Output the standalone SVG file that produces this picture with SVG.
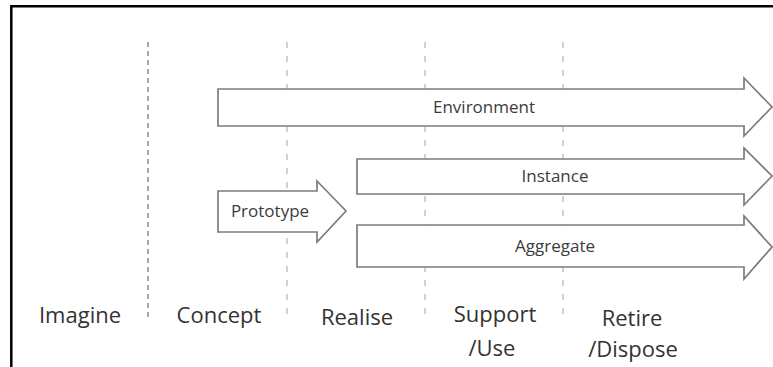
<svg xmlns="http://www.w3.org/2000/svg" width="773" height="367" viewBox="0 0 773 367">
  <style>
    .frame { fill: none; stroke: #000; stroke-width: 2.5; }
    .phase-first { fill: none; stroke: #a8a8a8; stroke-width: 2; stroke-dasharray: 5 4; }
    .phase { fill: none; stroke: #b4b4b4; stroke-width: 1.2; stroke-dasharray: 6 8; }
    .arrow { fill: #fff; stroke: #7c7c7c; stroke-width: 1.7; stroke-linejoin: miter; }
    .lbl { font-family: "Open Sans", "Liberation Sans", sans-serif; font-size: 17px; fill: #3c3c3c; text-anchor: middle; }
    .stage { font-family: "Open Sans", "Liberation Sans", sans-serif; font-size: 22px; fill: #333; text-anchor: middle; }
  </style>

  <!-- outer frame (left and top edges) -->
  <path class="frame" d="M11.3,367 V6.2 H775"/>

  <!-- phase boundaries -->
  <g id="phase-lines">
    <line class="phase-first" x1="148" y1="42" x2="148" y2="318"/>
    <line class="phase" x1="287" y1="42" x2="287" y2="318"/>
    <line class="phase" x1="425" y1="42" x2="425" y2="318"/>
    <line class="phase" x1="563" y1="42" x2="563" y2="320"/>
  </g>

  <g id="connectors">
    <g id="environment">
      <polygon class="arrow" points="218,89 744,89 744,78 772,107 744,136 744,126 218,126"/>
      <text class="lbl" x="484" y="113">Environment</text>
    </g>
    <g id="instance">
      <polygon class="arrow" points="357,159 744,159 744,148 772,176 744,205 744,194 357,194"/>
      <text class="lbl" x="555" y="182">Instance</text>
    </g>
    <g id="aggregate">
      <polygon class="arrow" points="357,225 744,225 744,216 772,247 744,279 744,267 357,267"/>
      <text class="lbl" x="555" y="252">Aggregate</text>
    </g>
    <g id="prototype">
      <polygon class="arrow" points="218,191 317,191 317,181 346,211 317,242 317,232 218,232"/>
      <text class="lbl" x="270" y="217">Prototype</text>
    </g>
  </g>

  <!-- lifecycle stages -->
  <g id="stage-imagine"><text class="stage" x="80" y="323">Imagine</text></g>
  <g id="stage-concept"><text class="stage" x="219" y="323">Concept</text></g>
  <g id="stage-realise"><text class="stage" x="357" y="325">Realise</text></g>
  <g id="stage-support">
    <text class="stage" x="495" y="322">Support</text>
    <text class="stage" x="492" y="356">/Use</text>
  </g>
  <g id="stage-retire">
    <text class="stage" x="632" y="326">Retire</text>
    <text class="stage" x="633" y="357">/Dispose</text>
  </g>
</svg>
